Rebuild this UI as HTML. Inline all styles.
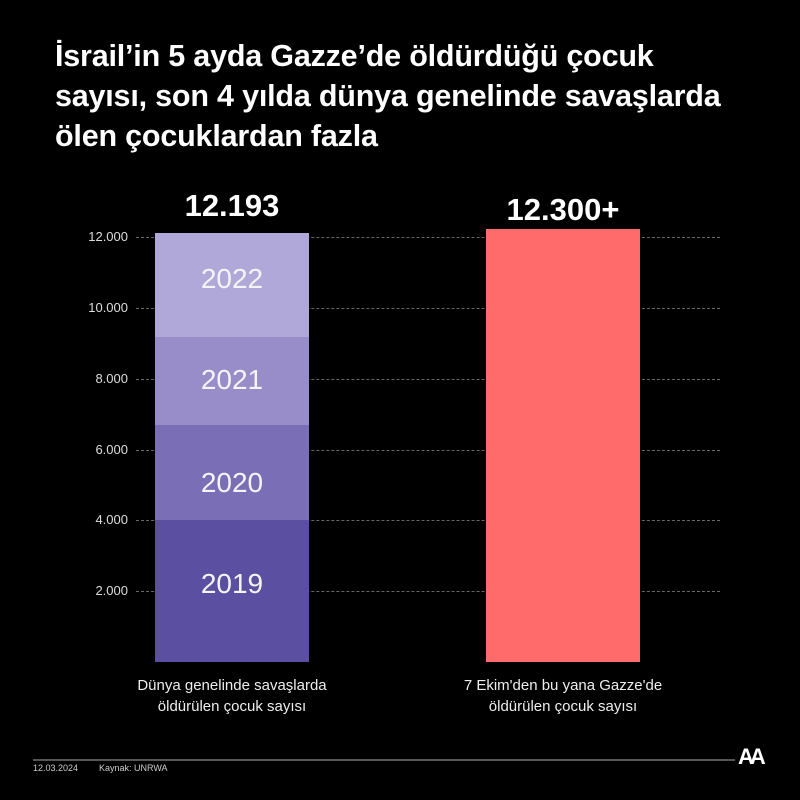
<!DOCTYPE html>
<html><head><meta charset="utf-8"><style>
body{margin:0;background:#000;}
#c{position:relative;width:800px;height:800px;background:#000;font-family:"Liberation Sans",sans-serif;color:#fff;overflow:hidden}
.t{position:absolute;left:55px;top:36px;font-size:30.5px;line-height:40px;font-weight:bold;letter-spacing:-0.2px}
.yl{position:absolute;right:672px;font-size:13px;color:#ddd}
.g{position:absolute;left:136px;width:584px;border-top:1.5px dashed #666}
.b{position:absolute}
.yr{position:absolute;left:155px;width:154px;text-align:center;font-size:28px;color:#f4f4f4}
.v{position:absolute;font-size:31px;font-weight:bold;text-align:center}
.cap{position:absolute;font-size:15px;text-align:center;line-height:21px;color:#eee}
</style></head><body><div id="c">
<div class="t">İsrail’in 5 ayda Gazze’de öldürdüğü çocuk<br>sayısı, son 4 yılda dünya genelinde savaşlarda<br>ölen çocuklardan fazla</div>
<div class="g" style="top:237px"></div><div class="g" style="top:308px"></div><div class="g" style="top:379px"></div><div class="g" style="top:450px"></div><div class="g" style="top:520px"></div><div class="g" style="top:591px"></div>
<div class="yl" style="top:229px">12.000</div><div class="yl" style="top:300px">10.000</div><div class="yl" style="top:371px">8.000</div><div class="yl" style="top:442px">6.000</div><div class="yl" style="top:512px">4.000</div><div class="yl" style="top:583px">2.000</div>
<div class="v" style="left:155px;width:154px;top:188px">12.193</div>
<div class="v" style="left:486px;width:154px;top:192px">12.300+</div>
<div class="b" style="left:155px;width:154px;top:233px;height:104px;background:#b0a8d8"></div>
<div class="b" style="left:155px;width:154px;top:337px;height:88px;background:#988dc8"></div>
<div class="b" style="left:155px;width:154px;top:425px;height:95px;background:#7a6fb6"></div>
<div class="b" style="left:155px;width:154px;top:520px;height:142px;background:#5b4fa1"></div>
<div class="yr" style="top:263px">2022</div>
<div class="yr" style="top:364px">2021</div>
<div class="yr" style="top:467px">2020</div>
<div class="yr" style="top:568px">2019</div>
<div class="b" style="left:486px;width:154px;top:229px;height:433px;background:#ff6b6b"></div>
<div class="cap" style="left:100px;width:264px;top:675px">Dünya genelinde savaşlarda<br>öldürülen çocuk sayısı</div>
<div class="cap" style="left:431px;width:264px;top:675px">7 Ekim'den bu yana Gazze'de<br>öldürülen çocuk sayısı</div>
<div style="position:absolute;left:33px;top:759px;width:702px;height:2px;background:#555"></div>
<div style="position:absolute;left:33px;top:763px;font-size:9px;color:#ccc">12.03.2024</div>
<div style="position:absolute;left:99px;top:763px;font-size:9px;color:#ccc">Kaynak: UNRWA</div>
<div style="position:absolute;left:738px;top:744px;font-size:22px;font-weight:bold;letter-spacing:-4px">AA</div>
</div></body></html>
